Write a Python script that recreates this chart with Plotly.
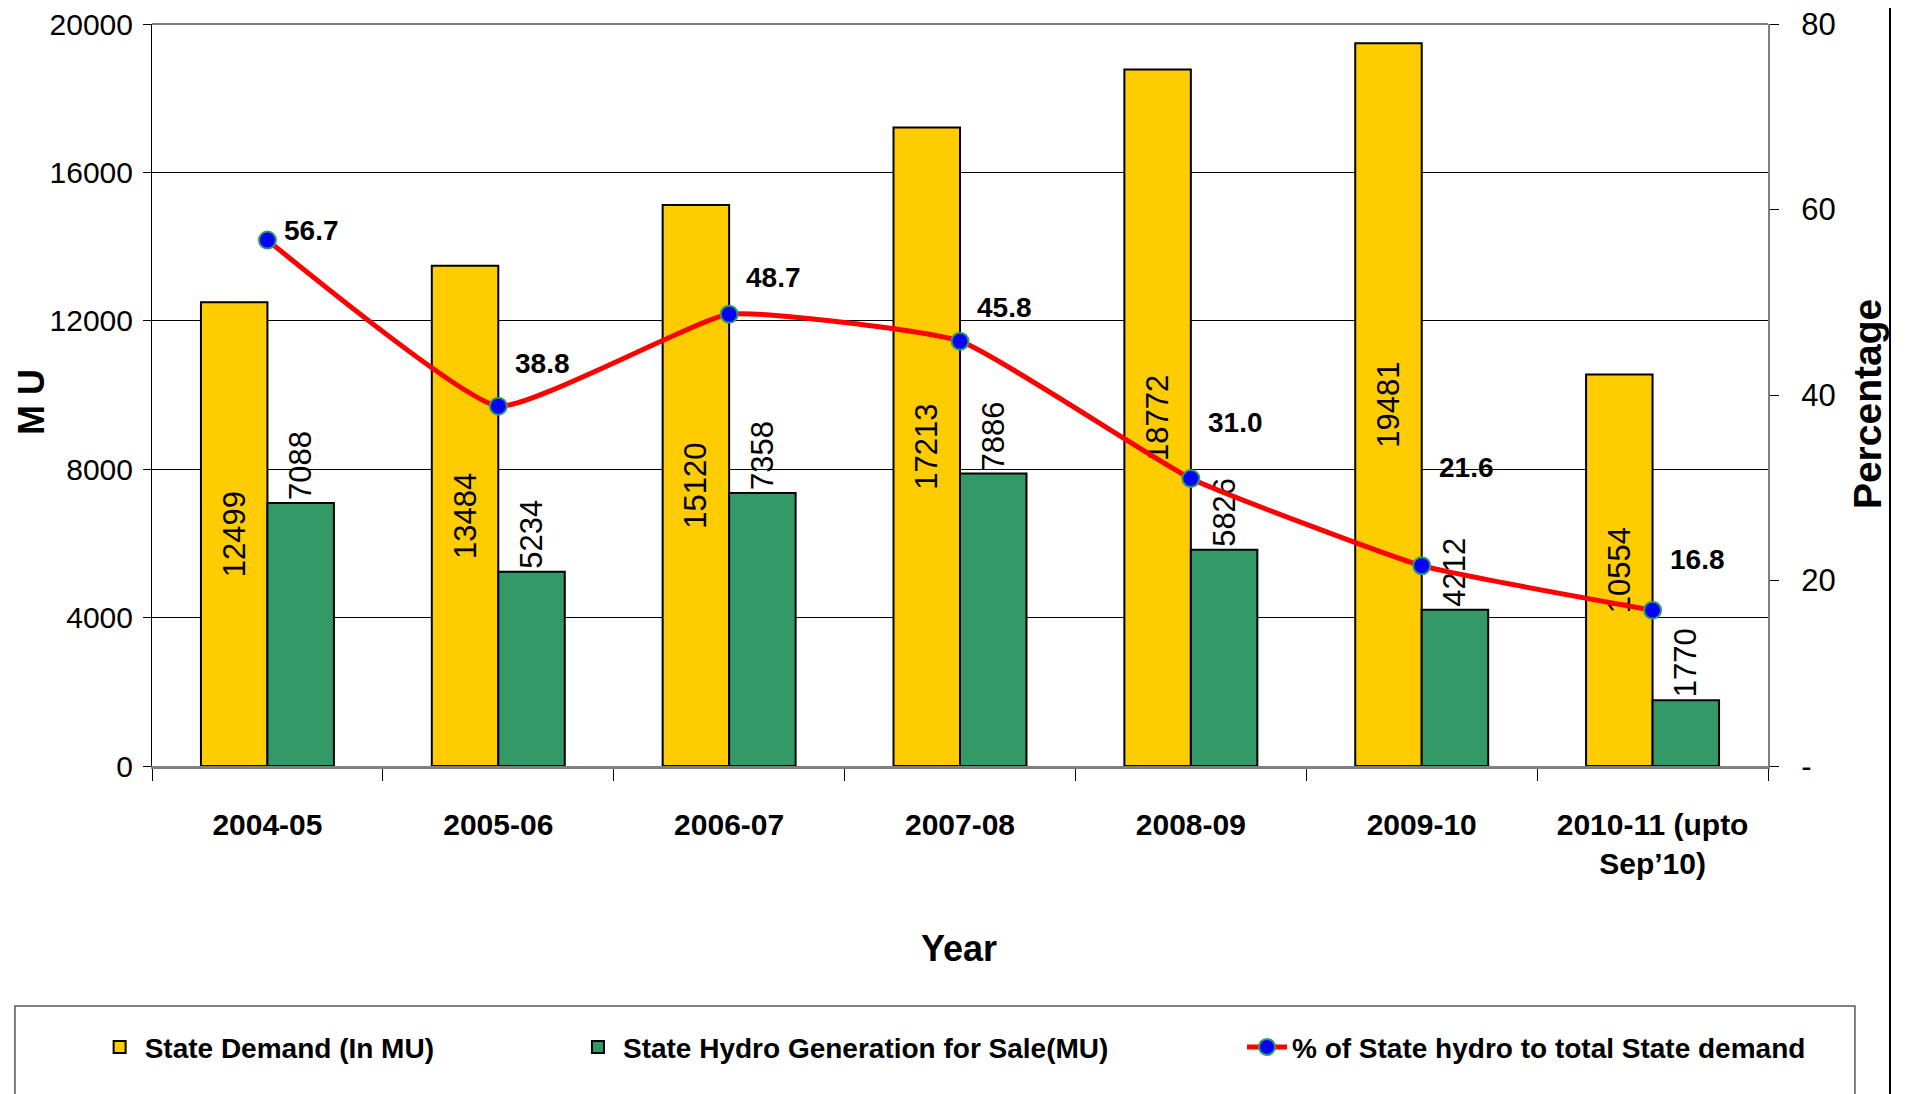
import plotly.graph_objects as go

# ---- data ----
years = ["2004-05", "2005-06", "2006-07", "2007-08", "2008-09", "2009-10",
         "2010-11 (upto<br>Sep’10)"]
state_demand = [12499, 13484, 15120, 17213, 18772, 19481, 10554]
hydro_sale = [7088, 5234, 7358, 7886, 5826, 4212, 1770]
hydro_pct = [56.7, 38.8, 48.7, 45.8, 31.0, 21.6, 16.8]

left_tickvals = [0, 4000, 8000, 12000, 16000, 20000]
left_ticktext = ["0", "4000", "8000", "12000", "16000", "20000"]
right_tickvals = [0, 20, 40, 60, 80]
right_ticktext = ["-", "20", "40", "60", "80"]

# ---- style ----
pct_label_lift = [10, 43, 37, 34, 56, 98, 51]   # pixel lift of the % labels
FONT = "Liberation Sans, Arial, sans-serif"

fig = go.Figure()

fig.add_trace(go.Bar(
    x=years, y=state_demand, name="State Demand (In MU)",
    marker=dict(color="#FFCC00", line=dict(color="black", width=2)),
    text=[str(v) for v in state_demand], textposition="inside",
    insidetextanchor="middle", textangle=-90, constraintext="none",
    textfont=dict(family=FONT, size=31, color="black"),
    legend="legend",
))
fig.add_trace(go.Bar(
    x=years, y=hydro_sale, name="State Hydro Generation for Sale(MU)",
    marker=dict(color="#339966", line=dict(color="black", width=2)),
    text=[str(v) for v in hydro_sale], textposition="outside",
    textangle=-90, constraintext="none", cliponaxis=False,
    textfont=dict(family=FONT, size=31, color="black"),
    legend="legend2",
))
fig.add_trace(go.Scatter(
    x=years, y=hydro_pct, yaxis="y2", name="% of State hydro to total State demand",
    mode="lines+markers",
    line=dict(color="#FF0000", width=5, shape="spline", smoothing=0.4),
    marker=dict(color="#0000FF", size=17, line=dict(color="#339966", width=2)),
    legend="legend3",
))

annotations = []
for i, (x, v) in enumerate(zip(years, hydro_pct)):
    annotations.append(dict(
        x=x, y=v, xref="x", yref="y2", text=f"{v:.1f}", showarrow=False,
        xanchor="left", yanchor="middle", xshift=15, yshift=pct_label_lift[i],
        font=dict(family=FONT, size=28, color="black", weight="bold"),
    ))
annotations += [
    dict(x=-0.0745, y=0.49, xref="paper", yref="paper", text="M U", textangle=-90,
         showarrow=False, xanchor="center", yanchor="middle",
         font=dict(family=FONT, size=36, color="black", weight="bold")),
    dict(x=1.062, y=0.488, xref="paper", yref="paper", text="Percentage", textangle=-90,
         showarrow=False, xanchor="center", yanchor="middle",
         font=dict(family=FONT, size=39, color="black", weight="bold")),
    dict(x=0.4994, y=-0.2466, xref="paper", yref="paper", text="Year",
         showarrow=False, xanchor="center", yanchor="middle",
         font=dict(family=FONT, size=36, color="black", weight="bold")),
]

legend_common = dict(
    y=-0.379, xanchor="left", yanchor="middle", orientation="h",
    bgcolor="rgba(0,0,0,0)", borderwidth=0, itemwidth=40,
    font=dict(family=FONT, size=28, color="black", weight="bold"),
)

# page body has an 8px margin, so the figure is 8px smaller and margins shifted
fig.update_layout(
    width=1904, height=1086,
    margin=dict(l=144, r=144, t=16, b=328, autoexpand=False),
    paper_bgcolor="white", plot_bgcolor="white",
    barmode="group", bargap=0.424, bargroupgap=0,
    showlegend=True,
    legend=dict(x=-0.0355, **legend_common),
    legend2=dict(x=0.2605, **legend_common),
    legend3=dict(x=0.6745, **legend_common),
    xaxis=dict(
        type="category", tickson="boundaries", ticks="outside", ticklen=12,
        tickcolor="black", showline=True, linecolor="#808080", linewidth=3,
        showgrid=False, tickangle=0, automargin=False,
        tickfont=dict(family=FONT, size=30, color="black", weight="bold"),
        ticklabelstandoff=30,
    ),
    yaxis=dict(
        range=[0, 20000], tickvals=left_tickvals, ticktext=left_ticktext,
        ticks="outside", ticklen=8, automargin=False, ticklabeloverflow="allow",
        tickcolor="black", showline=True, linecolor="black", linewidth=1,
        showgrid=True, gridcolor="black", gridwidth=1, zeroline=False,
        tickfont=dict(family=FONT, size=30, color="black"), ticklabelstandoff=4,
    ),
    yaxis2=dict(
        overlaying="y", side="right", range=[0, 80], tickvals=right_tickvals,
        ticktext=right_ticktext, showgrid=False, zeroline=False, automargin=False,
        ticklabeloverflow="allow",
        showline=True, linecolor="#808080", linewidth=2,
        ticks="outside", ticklen=9, tickcolor="black",
        tickfont=dict(family=FONT, size=31, color="black"), ticklabelstandoff=16,
    ),
    annotations=annotations,
    shapes=[
        dict(type="line", xref="paper", yref="paper", x0=0, x1=1, y0=1, y1=1,
             line=dict(color="#808080", width=2)),
        dict(type="rect", xref="paper", yref="paper", x0=-0.0848, x1=1.0538,
             y0=-0.47, y1=-0.3235, line=dict(color="#555555", width=1.5)),
        dict(type="line", xref="paper", yref="paper", x0=1.0755, x1=1.0755,
             y0=-0.47, y1=1.05, line=dict(color="black", width=2)),
    ],
)

fig.write_html("out.html")
